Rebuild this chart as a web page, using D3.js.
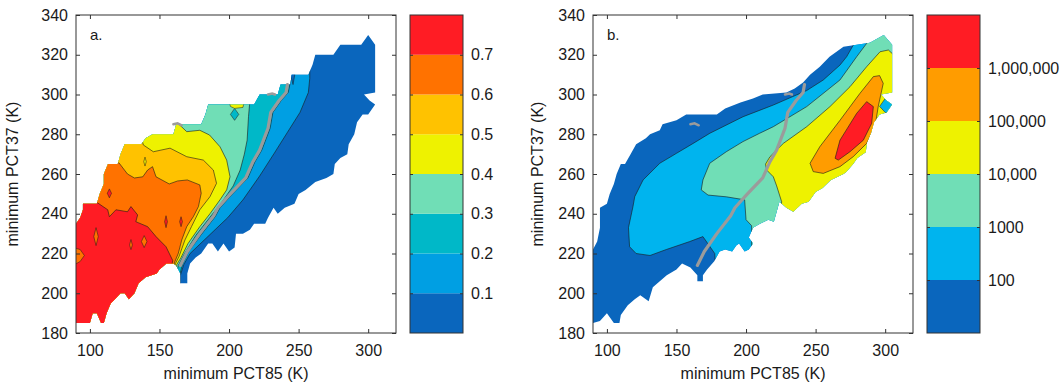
<!DOCTYPE html>
<html>
<head>
<meta charset="utf-8">
<script src="https://d3js.org/d3.v7.min.js"></script>
<style>
  body { margin: 0; background: #fff; font-family: "Liberation Sans", Arial, sans-serif; }
  .tick text { font-size: 16px; fill: #1a1a1a; font-family: "Liberation Sans", Arial, sans-serif; }
  .tick line { stroke: #333; }
</style>
</head>
<body>
<div id="chart"></div>
<script>
// ---- data (kelvin) ----
const xTicks = [100, 150, 200, 250, 300];
const yTicks = [180, 200, 220, 240, 260, 280, 300, 320, 340];

const colorsA = ["#0a66bd", "#009fe3", "#00b8c8", "#70deb6", "#eef200", "#ffc200", "#ff7200", "#ff1c24"];
const cbLabelsA = ["0.1", "0.2", "0.3", "0.4", "0.5", "0.6", "0.7"];
const colorsB = ["#0a66bd", "#00b4ee", "#70deb6", "#eef200", "#ff9c00", "#ff1c24"];
const cbLabelsB = ["100", "1000", "10,000", "100,000", "1,000,000"];

// data support of panel a
const outlineA = [[90,185],[90,214],[90,235],[93,238],[95,242],[95,245],[105,245],[107,250],[110,255],[110,260],[113,265],
  [120,265],[122,270],[125,275],[137,275],[140,278],[145,280],[160,280],[162,285],[180,285],[183,290],[185,295],[218,295],
  [222,300],[235,300],[237,305],[244,305],[245,310],[257,310],[260,315],[262,320],[275,320],[280,325],[295,325],[300,330],
  [305,325],[305,301],[297,300],[301,297],[305,295],[300,290],[296,290],[292,286],[290,280],[286,275],[285,270],[280,268],
  [276,265],[275,260],[270,258],[262,256],[255,252],[250,250],[247,245],[240,243],[235,240],[232,243],[228,238],[226,235],
  [218,235],[215,232],[210,230],[205,230],[204,223],[200,221],[196,225],[192,221],[188,225],[185,225],[180,220],[176,218],
  [172,215],[170,210],[170,205],[165,205],[165,210],[162,214],[160,215],[155,215],[150,212],[148,210],[140,208],[135,205],
  [132,200],[128,197],[125,200],[122,200],[118,197],[115,195],[112,190],[110,185],[108,185],[105,190],[102,190],[100,185]];

// regions >= level (open side runs outside the support and is clipped)
const regionA1 = [[164,175],[165,209],[167.5,214.5],[172,220],[184,228],[199,238],[210,247],[222,259],[233,271],[242,281],
  [251,291],[257,301],[258,308],[258,350],[80,350],[80,175]];
const regionA2 = [[163,175],[163,205],[166.5,214.5],[171,221],[180,229.5],[190,238.5],[193.5,243],[202.5,250],[213.5,258],
  [218.5,266],[223.5,272],[229.5,283],[231.5,291],[237.5,297],[242.5,301],[244,306],[244,350],[80,350],[80,175]];
const regionA3 = [[161,175],[161,205],[163.5,214],[168,220],[176,229],[186,238],[195,246],[203,254],[208,262],[211,270],
  [213,277],[214,289],[215,297],[215,350],[80,350],[80,175]];
const regionA4 = [[160,175],[160,205],[162.5,214.5],[165.5,218],[170.5,225],[179,233.5],[186.3,240],[193.5,247],[198.3,252],
  [200.7,258.6],[198.3,267],[193.5,273.7],[186,279.6],[179,282],[169.6,281.3],[164,285],[164,350],[80,350],[80,175]];
const regionA5 = [[159,175],[159,205],[161.5,215],[164,218.4],[168.3,226.8],[173,233.5],[179,242],[186.3,248.6],[191,255.3],
  [188.7,262],[181.5,267],[169.6,268.7],[157.6,273],[145.6,271.2],[138.4,274.6],[137.5,277],[137.5,350],[80,350],[80,175]];
const regionA6 = [[158,175],[158,205],[160.8,215.5],[163.5,220],[166,226.8],[169.6,233.5],[174.3,238.5],[178,243.6],
  [180,250.3],[179,254.5],[170,257],[163,256.5],[157,255],[147.5,258.6],[145,263.7],[141.5,262],[138,258.6],[132,258],
  [127,260],[121,265.5],[115,267],[115,350],[80,350],[80,175]];
const regionA7 = [[157,175],[157,205],[159.5,216.5],[154.7,223.4],[147.5,228.5],[141.5,233.5],[133,236],[134.3,239.4],
  [129.5,243.6],[127,241],[118.7,242],[114,238.5],[112.8,242],[104.4,246],[104,350],[80,350],[80,175]];
const regionsA = [regionA1, regionA2, regionA3, regionA4, regionA5, regionA6, regionA7];

// small closed patches: [level index, polygon]
const islandsA = [
  [6, [[88,214],[93,216],[96,219],[93,222],[88,223]]],
  [6, [[104.4,224],[106,228.5],[104.4,233],[102.8,228.5]]],
  [6, [[139,223],[141,226],[139,229],[137,226]]],
  [6, [[129.5,222],[130.5,224.3],[129.5,227],[128.5,224.3]]],
  [7, [[154.7,233],[155.7,236],[154.7,239],[153.7,236]]],
  [7, [[165.5,233.5],[166.5,236],[165.5,238.5],[164.5,236]]],
  [7, [[114,248],[115.5,250.3],[114,252.5],[112.5,250.3]]],
  [4, [[139.6,264],[140.5,266.2],[139.6,268.5],[138.7,266.2]]],
  [2, [[204,287],[207,290],[204,293],[201,290]]],
  [4, [[199,300],[201,294],[204,293],[210,293.5],[212,300]]],
  [0, [[243,313],[246,305],[248,313]]]
];

// data support of panel b
const outlineB = [[90,185],[90,222],[93,226],[95,233],[95,243],[100,245],[102,250],[105,255],[107,260],[110,265],[113,265],
  [117,270],[121,275],[128,278],[131,280],[138,282],[140,285],[150,287],[157,290],[179,290],[185,293],[196,296],[205,298],
  [212,300],[229,301],[235,303],[241,306],[246,310],[253,314],[260,319],[270,324],[289,326],[299,330],[305,325],[305,301],
  [297,300],[301,297],[305,295],[301,291],[296,290],[292,286],[290,281],[287,276],[286,271],[280,268],[277,265],[272,261],
  [270,260],[261,257],[255,253],[250,251],[245,246],[240,245],[234,241],[229,243],[224,246],[220,236],[216,237],[210,235],
  [205,233],[202,228],[205,225],[202,222],[199,221],[195,225],[193,224],[190,221],[185,222],[181,221],[177,216],[172,212],
  [169,209],[169,206],[165,206],[165,209],[160,213],[154,215],[150,212],[143,209],[138,206],[133,203],[130,196],[124,199],
  [120,197],[115,194],[110,189],[109,185],[105,185],[100,190],[95,186]];

const regionB1 = [[178,175],[178,214],[177.5,220],[169,228.5],[159.5,226],[142.7,222],[131,219],[121,220],[116.3,223.4],
  [115.5,233],[118.7,243.5],[120,248.6],[126,257],[138,265.4],[150,270.4],[162,275.4],[174,280.5],[197.8,288.8],
  [219.6,294.7],[243.6,302],[255.5,307.3],[267.5,314.8],[272.3,319],[278,326],[278,345],[330,345],[330,175]];
const regionB2 = [[204,175],[204,234],[200,237],[199,247],[186,248.5],[172.7,249.4],[167.8,252],[169,257],[173.9,265.4],
  [185.8,271.2],[197.8,276.3],[209.8,280.5],[219.6,283.8],[243.6,293.9],[267.5,307.3],[279.5,319],[287,326],[287,345],
  [330,345],[330,175]];
const regionB3 = [[225,175],[225,243],[225.6,246],[222,254],[219.6,258.6],[214.8,262],[214,265],[217.2,268.7],[226.8,275.4],
  [243.6,283.8],[260.3,293.9],[274.7,303.9],[286.7,314],[296.3,321.5],[302.3,322.4],[306,320],[330,320],[330,175]];
const regionB4 = [[246,265.4],[253,273.7],[267.5,287],[281.9,300.6],[291.5,309],[296,309.5],[298.6,305.6],[295,293.9],
  [292.7,283.8],[286.7,275.4],[277,268.7],[267.5,263.7],[255.5,260.3],[248.3,261.2]];
const regionB5 = [[264,267.9],[267.5,277],[279.5,290.5],[286.7,296.4],[291.5,293.9],[290.3,285.5],[284.3,277],
  [274.7,271.2],[266.3,267]];
const regionsB = [regionB1, regionB2, regionB3, regionB4, regionB5];

const islandsB = [
  [1, [[296,294],[300,298],[307,298],[307,289],[300,291]]]
];

// grey reference curve (same in both panels)
const greyLine = [[165,214],[170,221],[179,230],[189,239],[192,243],[201,250],[212,258],[217,266],[222,272],[228,283],
  [230,291],[236,297],[241,301],[242,305]];
const greyBits = [[[160,285],[163,285.5],[166,284.5]], [[228,300],[231,300.5],[233,300]]];

// ---- drawing ----
const W = 1062, H = 387;
const plotW = 320, plotH = 318, plotTop = 15;

const svg = d3.select("#chart").append("svg")
  .attr("width", W).attr("height", H);

const x = d3.scaleLinear().domain([90, 320]).range([0, plotW]);
const y = d3.scaleLinear().domain([180, 340]).range([plotH, 0]);
const line = d3.line().x(d => x(d[0])).y(d => y(d[1]));

function drawPanel(left, id, outline, regions, islands, colors, letter, ylabX) {
  var g = svg.append("g").attr("transform", "translate(" + left + "," + plotTop + ")");

  g.append("clipPath").attr("id", "clip" + id)
    .append("path").attr("d", line(outline) + "Z");

  g.append("path").attr("d", line(outline) + "Z").attr("fill", colors[0]);

  var inner = g.append("g").attr("clip-path", "url(#clip" + id + ")");
  regions.forEach(function(r, i) {
    inner.append("path")
      .attr("d", line(r) + "Z")
      .attr("fill", colors[i + 1])
      .attr("stroke", "#1a1a1a").attr("stroke-width", 0.6).attr("stroke-linejoin", "round");
  });
  islands.forEach(function(s) {
    inner.append("path")
      .attr("d", line(s[1]) + "Z")
      .attr("fill", colors[s[0]])
      .attr("stroke", "#1a1a1a").attr("stroke-width", 0.5);
  });

  g.append("path").attr("d", line(greyLine))
    .attr("fill", "none").attr("stroke", "#9b9b9b").attr("stroke-width", 3.2)
    .attr("stroke-linecap", "round").attr("stroke-linejoin", "round");
  greyBits.forEach(function(b) {
    g.append("path").attr("d", line(b))
      .attr("fill", "none").attr("stroke", "#9b9b9b").attr("stroke-width", 2.5).attr("stroke-linecap", "round");
  });

  // axes with inward ticks on all four sides
  g.append("g").attr("transform", "translate(0," + plotH + ")")
    .call(d3.axisBottom(x).tickValues(xTicks).tickSize(-4).tickPadding(12));
  g.append("g").call(d3.axisTop(x).tickValues(xTicks).tickSize(-4).tickFormat(""));
  g.append("g").call(d3.axisLeft(y).tickValues(yTicks).tickSize(-4).tickPadding(8));
  g.append("g").attr("transform", "translate(" + plotW + ",0)")
    .call(d3.axisRight(y).tickValues(yTicks).tickSize(-4).tickFormat(""));
  g.selectAll(".domain").remove();

  g.append("rect").attr("width", plotW).attr("height", plotH)
    .attr("fill", "none").attr("stroke", "#333").attr("stroke-width", 1);

  g.append("text").attr("x", 14).attr("y", 25)
    .attr("font-size", "15px").attr("fill", "#1a1a1a").text(letter);

  g.append("text")
    .attr("x", plotW / 2).attr("y", 364)
    .attr("text-anchor", "middle").attr("font-size", "16px").attr("fill", "#1a1a1a")
    .text("minimum PCT85 (K)");

  g.append("text")
    .attr("transform", "translate(" + ylabX + "," + (plotH / 2) + ") rotate(-90)")
    .attr("text-anchor", "middle").attr("font-size", "16px").attr("fill", "#1a1a1a")
    .text("minimum PCT37 (K)");
}

function drawColorbar(left, colors, labels) {
  var cbW = 53;
  var g = svg.append("g").attr("transform", "translate(" + left + "," + plotTop + ")");
  var yc = d3.scaleLinear().domain([0, colors.length]).range([plotH, 0]);

  g.selectAll("rect.band").data(colors).enter().append("rect")
    .attr("class", "band")
    .attr("x", 0).attr("width", cbW)
    .attr("y", function(d, i) { return yc(i + 1); })
    .attr("height", function(d, i) { return yc(i) - yc(i + 1); })
    .attr("fill", function(d) { return d; });

  var tv = labels.map(function(d, i) { return i + 1; });
  g.append("g").attr("transform", "translate(" + cbW + ",0)")
    .call(d3.axisRight(yc).tickValues(tv).tickSize(-3).tickPadding(8)
      .tickFormat(function(d) { return labels[d - 1]; }));
  g.append("g").call(d3.axisLeft(yc).tickValues(tv).tickSize(-3).tickFormat(""));
  g.selectAll(".domain").remove();

  g.append("rect").attr("width", cbW).attr("height", plotH)
    .attr("fill", "none").attr("stroke", "#333").attr("stroke-width", 1);
}

drawPanel(76, "A", outlineA, regionsA, islandsA, colorsA, "a.", -58);
drawColorbar(410, colorsA, cbLabelsA);
drawPanel(593, "B", outlineB, regionsB, islandsB, colorsB, "b.", -50);
drawColorbar(927, colorsB, cbLabelsB);
</script>
</body>
</html>
